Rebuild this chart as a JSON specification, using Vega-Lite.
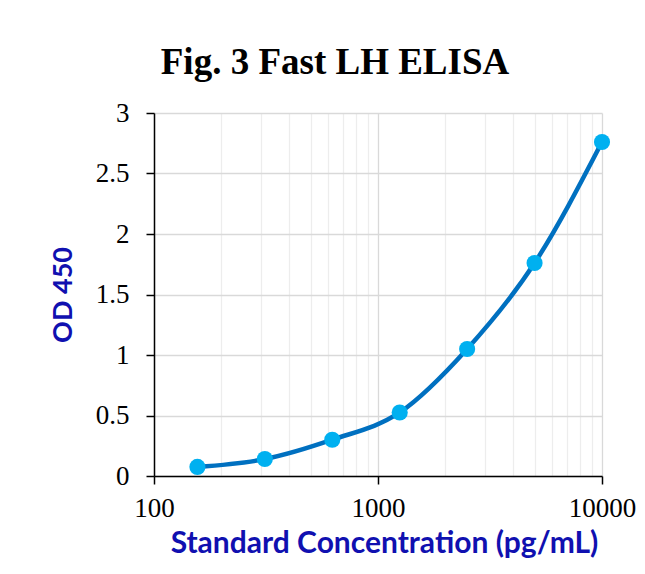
{
  "$schema": "https://vega.github.io/schema/vega-lite/v6.json",
  "autosize": {"type": "none"},
  "width": 448,
  "height": 363,
  "padding": {"left": 154, "top": 113, "right": 43, "bottom": 98},
  "background": "white",
  "title": {
    "text": "Fig. 3 Fast LH ELISA",
    "font": "Liberation Serif",
    "fontSize": 37,
    "fontWeight": "bold",
    "color": "black",
    "anchor": "middle",
    "dx": -43,
    "offset": 17
  },
  "config": {
    "view": {"stroke": null},
    "axis": {
      "labelFont": "Liberation Serif",
      "labelFontSize": 27,
      "labelColor": "black",
      "titleFont": "Lato",
      "titleFontWeight": "bold",
      "titleColor": "#1010B0",
      "titleFontSize": 29,
      "domainColor": "black",
      "domainWidth": 1.5,
      "tickColor": "black",
      "tickWidth": 1.5,
      "tickSize": 8
    }
  },
  "data": {
    "values": [
      {"conc": 156.25, "od": 0.075},
      {"conc": 312.5, "od": 0.14},
      {"conc": 625, "od": 0.30},
      {"conc": 1250, "od": 0.525},
      {"conc": 2500, "od": 1.05},
      {"conc": 5000, "od": 1.76},
      {"conc": 10000, "od": 2.76}
    ]
  },
  "encoding": {
    "x": {
      "field": "conc",
      "type": "quantitative",
      "scale": {"type": "log", "domain": [100, 10000], "nice": false},
      "axis": {
        "title": "Standard Concentration (pg/mL)",
        "titleFontSize": 30,
        "titleX": 230,
        "titleAnchor": "middle",
        "values": [100, 200, 300, 400, 500, 600, 700, 800, 900, 1000, 2000, 3000, 4000, 5000, 6000, 7000, 8000, 9000, 10000],
        "labelExpr": "(datum.value == 100 || datum.value == 1000 || datum.value == 10000) ? datum.value : ''",
        "labelPadding": 11,
        "labelOverlap": false,
        "labelFlush": false,
        "grid": true,
        "gridColor": {"condition": {"test": "datum.value == 1000 || datum.value == 10000", "value": "#D9D9D9"}, "value": "#EDEDED"},
        "gridWidth": 1.3,
        "tickOpacity": {"condition": {"test": "datum.value == 100 || datum.value == 1000 || datum.value == 10000", "value": 1}, "value": 0},
        "titlePadding": 7
      }
    },
    "y": {
      "field": "od",
      "type": "quantitative",
      "scale": {"domain": [0, 3], "nice": false},
      "axis": {
        "title": "OD 450",
        "titleFontSize": 27,
        "format": "~g",
        "values": [0, 0.5, 1, 1.5, 2, 2.5, 3],
        "labelPadding": 17,
        "grid": true,
        "gridColor": "#D9D9D9",
        "gridWidth": 1.3,
        "titlePadding": 18
      }
    }
  },
  "layer": [
    {"mark": {"type": "line", "interpolate": "monotone", "color": "#0070C0", "strokeWidth": 4.5}},
    {"mark": {"type": "circle", "color": "#00B0F0", "size": 260, "opacity": 1}}
  ]
}
